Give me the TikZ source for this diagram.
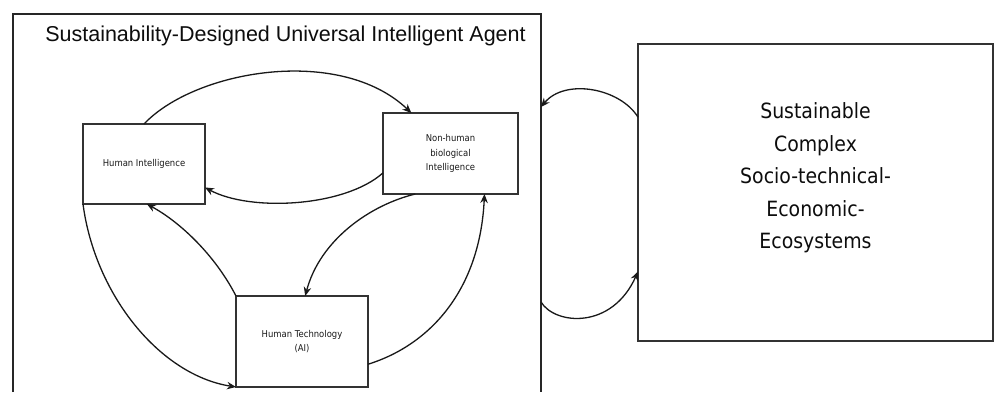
\documentclass[tikz,border=0pt]{standalone}
\usepackage{fontspec}
\setmainfont{Liberation Sans}
\newfontfamily\boxfont[FakeStretch=0.9]{DejaVu Sans}
\usepackage{tikz}
\usetikzlibrary{arrows.meta}
\usetikzlibrary{calc}

\begin{document}
\begin{tikzpicture}[x=1pt,y=-1pt]
	\path[use as bounding box, fill=white] (0,0) rectangle (998,392);

	% outer agent frame
	\coordinate (fa) at (541,107);
	\coordinate (fb) at (541,302);
	\draw[line width=1.3pt, black!85] (13,392) -- (13,14) -- (541,14) -- (541,392);
	\node[anchor=base, text=black!95, font=\fontsize{21.5}{26}\selectfont] (title) at (285.5,41) {Sustainability-Designed Universal Intelligent Agent};

	\begin{scope}[every node/.style={draw=black!80, line width=1.5pt, inner sep=0pt, outer sep=0pt,
	              align=center, text=black!90, font=\boxfont\fontsize{9.4}{14.5}\selectfont}]
		\node[minimum width=122pt, minimum height=80pt] (hi) at (144,164) {Human Intelligence};
		\node[minimum width=135pt, minimum height=81pt] (nhbi) at (450.5,153.5) {Non-human\\biological\\Intelligence};
		\node[minimum width=132pt, minimum height=91pt] (ht) at (302,341.5) {Human Technology\\(AI)};
		\node[minimum width=355pt, minimum height=297pt] (eco) at (815.5,192.5) {};
	\end{scope}
	\node[align=center, text=black!95, font=\boxfont\fontsize{21}{32.5}\selectfont] (ecotext) at (815.5,178)
		{Sustainable\\Complex\\Socio-technical-\\Economic-\\Ecosystems};

	\begin{scope}[>={Stealth[length=9pt,width=7.5pt]},
	              every path/.style={->, line width=1.3pt, draw=black!90}]
		\draw (hi.north) .. controls (195,70) and (340,45) .. (nhbi.134);
		\draw (nhbi.196) .. controls (345,207) and (250,212) .. (hi.339);
		\draw (ht.north west) .. controls (215,255) and (180,222) .. (hi.274);
		\draw (hi.south west) .. controls (95,295) and (160,375) .. (ht.south west);
		\draw (nhbi.229) .. controls (370,205) and (320,240) .. (ht.86);
		\draw (ht.341) .. controls (430,345) and (480,290) .. (nhbi.310);
		\draw (eco.157) .. controls (620,88) and (565,78) .. (fa);
		\draw (fb) .. controls (555,325) and (612,330) .. (eco.204);
	\end{scope}
\end{tikzpicture}
\end{document}
